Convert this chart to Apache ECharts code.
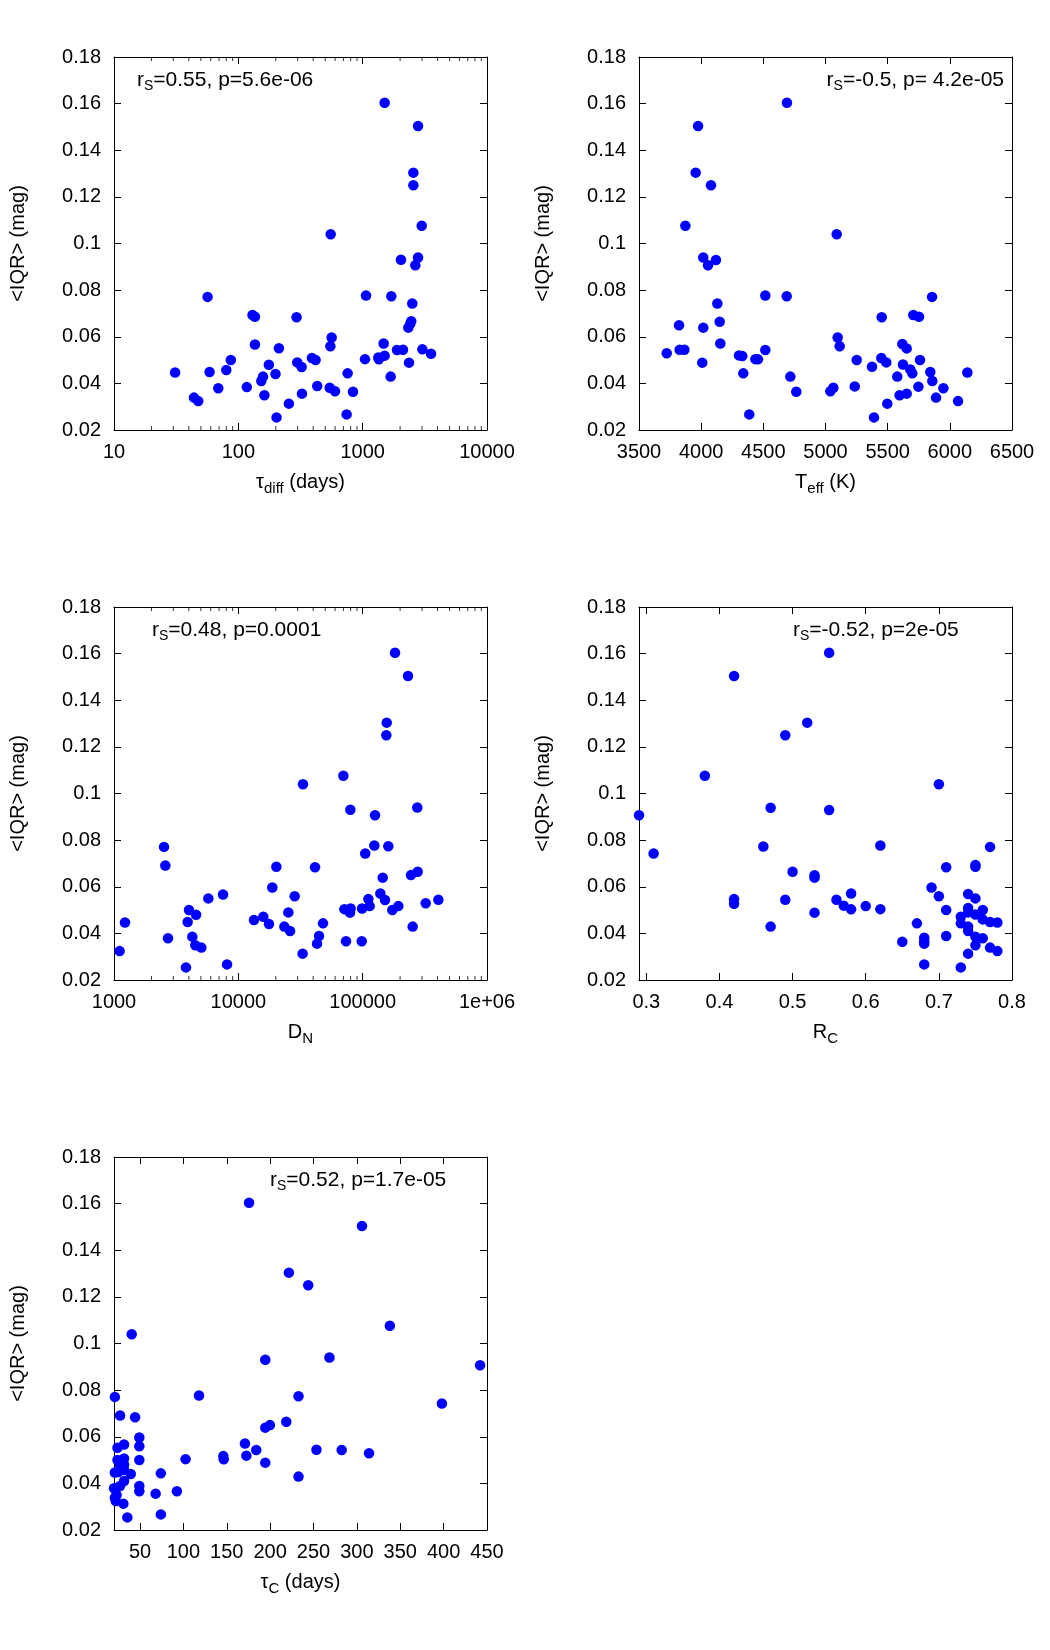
<!DOCTYPE html>
<html>
<head>
<meta charset="utf-8">
<script src="https://cdn.jsdelivr.net/npm/echarts@6/dist/echarts.min.js"></script>
<style>
  html, body { margin: 0; padding: 0; background: #fff; }
  #chart { width: 1050px; height: 1650px; }
</style>
</head>
<body>
<div id="chart"></div>
<script>
// values
var tauDiffDays = [31, 44, 47.6, 56.6, 58.7, 69, 80, 87, 117, 130, 136, 136, 212, 176, 158, 153, 199, 162, 203, 255,
    294, 298, 323, 325, 391, 418, 431, 553, 563, 550, 543, 599, 757, 743, 836, 1044, 1064, 1337, 1350, 1503,
    1475, 1503, 1679, 1700, 1888, 2110, 2033, 2359, 2329, 2417, 2460, 2506, 2557, 2557, 2652, 2788, 2788, 2985, 3022, 3548];
var iqrTauDiff = [0.0447, 0.0339, 0.0324, 0.0771, 0.0449, 0.0379, 0.0457, 0.05, 0.0384, 0.0693, 0.0686, 0.0567, 0.0551, 0.048, 0.0429, 0.041, 0.044, 0.0349, 0.0254, 0.0313,
    0.0684, 0.049, 0.047, 0.0356, 0.0509, 0.05, 0.0389, 0.104, 0.0597, 0.0559, 0.0381, 0.0366, 0.0443, 0.0267, 0.0364, 0.0504, 0.0777, 0.0511, 0.0503, 0.0519,
    0.0571, 0.1604, 0.0429, 0.0774, 0.0543, 0.0544, 0.093, 0.0489, 0.0639, 0.0657, 0.0667, 0.0743, 0.125, 0.1304, 0.0907, 0.094, 0.1504, 0.1076, 0.0546, 0.0527];

var teffK = [3723, 3822, 3827, 3865, 3873, 3956, 3975, 4009, 4017, 4017, 4055, 4079, 4119, 4130, 4149, 4154, 4304, 4331, 4339, 4387,
    4436, 4457, 4516, 4516, 4688, 4690, 4717, 4765, 5039, 5063, 5090, 5098, 5114, 5235, 5251, 5374, 5390, 5452, 5449, 5489,
    5497, 5577, 5596, 5618, 5623, 5653, 5653, 5682, 5698, 5706, 5752, 5747, 5760, 5843, 5857, 5859, 5889, 5948, 6066, 6141];
var iqrTeff = [0.0529, 0.0649, 0.0544, 0.0544, 0.1076, 0.1304, 0.1504, 0.0489, 0.0639, 0.094, 0.0907, 0.125, 0.0929, 0.0743, 0.0664, 0.0571, 0.052, 0.0517, 0.0443, 0.0267,
    0.0504, 0.0503, 0.0777, 0.0543, 0.0774, 0.1604, 0.0429, 0.0364, 0.0366, 0.0381, 0.104, 0.0597, 0.0559, 0.0387, 0.05, 0.0471, 0.0254, 0.0684, 0.0509, 0.049,
    0.0313, 0.0429, 0.0349, 0.0569, 0.0481, 0.0356, 0.055, 0.046, 0.0443, 0.0693, 0.0686, 0.0386, 0.05, 0.0449, 0.0771, 0.041, 0.0339, 0.0379, 0.0324, 0.0447];

var dN = [1110, 1225, 2525, 2587, 2718, 3793, 3912, 4009, 4265, 4508, 4571, 5039, 5737, 7530, 8110, 13370, 15890, 17650, 18760, 20220,
    23450, 25240, 26060, 28390, 32890, 33110, 41400, 42950, 44570, 47980, 69950, 71280, 73480, 79620, 79110, 80000, 98900, 98300, 104900, 111100,
    113900, 124100, 125700, 138800, 144900, 151300, 156100, 155000, 160800, 173200, 182100, 193600, 231600, 244700, 252500, 276800, 275000, 321400, 406400];
var iqrDN = [0.0324, 0.0447, 0.0771, 0.0691, 0.0379, 0.0254, 0.0449, 0.05, 0.0386, 0.0349, 0.048, 0.0339, 0.055, 0.0567, 0.0267, 0.0457, 0.0471, 0.044, 0.0597, 0.0686,
    0.0429, 0.049, 0.041, 0.0559, 0.0313, 0.104, 0.0684, 0.0356, 0.0389, 0.0443, 0.1076, 0.0504, 0.0366, 0.093, 0.0489, 0.0507, 0.0507, 0.0366, 0.0743, 0.0547,
    0.0517, 0.0777, 0.0907, 0.0571, 0.0639, 0.0543, 0.1304, 0.125, 0.0774, 0.05, 0.1604, 0.0517, 0.1504, 0.065, 0.0429, 0.0664, 0.094, 0.0529, 0.0544];

var rC = [0.29, 0.31, 0.38, 0.42, 0.42, 0.42, 0.46, 0.47, 0.47, 0.49, 0.49, 0.50, 0.52, 0.53, 0.53, 0.53, 0.55, 0.55, 0.56, 0.57,
    0.58, 0.58, 0.60, 0.62, 0.62, 0.65, 0.67, 0.68, 0.68, 0.68, 0.68, 0.69, 0.70, 0.70, 0.71, 0.71, 0.71, 0.73, 0.73, 0.73,
    0.74, 0.74, 0.74, 0.74, 0.74, 0.74, 0.75, 0.75, 0.75, 0.75, 0.75, 0.75, 0.76, 0.76, 0.76, 0.77, 0.77, 0.77, 0.78, 0.78];
var iqrRC = [0.0907, 0.0743, 0.1076, 0.1504, 0.0547, 0.0527, 0.0773, 0.0939, 0.0429, 0.125, 0.0544, 0.0664, 0.1304, 0.0649, 0.0639, 0.0489, 0.1604, 0.0929, 0.0544, 0.0519,
    0.0571, 0.0503, 0.0517, 0.0777, 0.0504, 0.0364, 0.0443, 0.0381, 0.0366, 0.0356, 0.0267, 0.0597, 0.104, 0.0559, 0.0684, 0.05, 0.0389, 0.0254, 0.0471, 0.0443,
    0.0569, 0.0509, 0.049, 0.0429, 0.041, 0.0313, 0.0693, 0.0686, 0.055, 0.0481, 0.0386, 0.0349, 0.05, 0.046, 0.0379, 0.0771, 0.0449, 0.0339, 0.0447, 0.0324];

var tauCDays = [21, 21, 20, 21, 22, 24, 27, 24, 27, 25, 27, 31.6, 31.6, 31.6, 31.6, 31.6, 30.8, 35.4, 39.3, 40.4,
    44.3, 49.2, 49.2, 49.2, 49.2, 49.2, 68, 74, 74, 92.5, 102.5, 118, 146, 146.5, 171, 172.6, 175.7, 184, 194.4, 194.4,
    194.4, 199.8, 218.6, 221.6, 232.7, 232.7, 243.9, 253.4, 268.4, 282.5, 305.9, 314, 338, 398, 442, 23];
var iqrTauC = [0.0771, 0.0447, 0.0379, 0.0339, 0.0324, 0.0553, 0.0691, 0.05, 0.048, 0.0449, 0.0389, 0.0567, 0.0507, 0.048, 0.0457, 0.041, 0.0313, 0.0254, 0.044, 0.104,
    0.0684, 0.0597, 0.0559, 0.05, 0.0389, 0.0366, 0.0356, 0.0443, 0.0267, 0.0366, 0.0504, 0.0777, 0.0517, 0.0503, 0.0571, 0.0519, 0.1604, 0.0543, 0.093, 0.0639,
    0.0489, 0.065, 0.0664, 0.1304, 0.0774, 0.0429, 0.125, 0.0544, 0.094, 0.0543, 0.1504, 0.0529, 0.1076, 0.0743, 0.0907, 0.035];

// tick labels
var rCTicks = [0.3, 0.4, 0.5, 0.6, 0.7, 0.8];
var tauCTicks = [50, 100, 150, 200, 250, 300, 350, 400, 450];
var logMinor = [2, 3, 4, 5, 6, 7, 8, 9];
var tauDiffDecades = [10, 100, 1000];
var dNDecades = [1000, 10000, 100000];

var notes = ['0.55, p=5.6e-06', '-0.5, p= 4.2e-05', '0.48, p=0.0001', '-0.52, p=2e-05', '0.52, p=1.7e-05'];

var font = 'Liberation Sans, Arial, Helvetica, sans-serif';
var sub = {
    n: {fontSize: 20, fontFamily: font, color: '#000', lineHeight: 28},
    s: {fontSize: 15, fontFamily: font, color: '#000', lineHeight: 28, verticalAlign: 'bottom'}
};
var noteSub = {
    n: {fontSize: 21, fontFamily: font, fill: '#000', color: '#000', lineHeight: 26},
    s: {fontSize: 14, fontFamily: font, fill: '#000', color: '#000', lineHeight: 26, verticalAlign: 'bottom'}
};

var myChart = echarts.init(document.getElementById('chart'));

var gridPos = [[114, 57], [639, 57], [114, 607], [639, 607], [114, 1157]];
var panels = [
    {type: 'log', min: 10, max: 10000, name: '{n|τ}{s|diff}{n| (days)}', x: tauDiffDays, y: iqrTauDiff, decades: tauDiffDecades},
    {type: 'value', min: 3500, max: 6500, interval: 500, name: '{n|T}{s|eff}{n| (K)}', x: teffK, y: iqrTeff},
    {type: 'log', min: 1000, max: 1000000, name: '{n|D}{s|N}', x: dN, y: iqrDN, decades: dNDecades},
    {type: 'value', min: 0.29, max: 0.8, ticks: rCTicks, name: '{n|R}{s|C}', x: rC, y: iqrRC},
    {type: 'value', min: 20, max: 450, ticks: tauCTicks, name: '{n|τ}{s|C}{n| (days)}', x: tauCDays, y: iqrTauC}
];

var grid = [], xAxis = [], yAxis = [], series = [];

function xAx(i, p, mirror) {
    var a = {
        gridIndex: i, type: p.type, min: p.min, max: p.max,
        position: mirror ? 'top' : 'bottom',
        axisLine: {show: true, onZero: false, lineStyle: {color: '#000', width: 1}},
        axisTick: {show: true, inside: true, length: 7, lineStyle: {color: '#000', width: 1}},
        axisLabel: {show: !mirror, color: '#000', fontSize: 20, fontFamily: font, margin: 12,
            showMinLabel: true, showMaxLabel: true,
            formatter: function (v) { return v >= 1000000 ? '1e+06' : String(v); }},
        splitLine: {show: false}
    };
    if (p.type === 'log') a.logBase = 10;
    if (p.interval) a.interval = p.interval;
    if (p.ticks) {
        a.axisTick.customValues = p.ticks;
        a.axisLabel.customValues = p.ticks;
    }
    if (!mirror) {
        a.name = p.name;
        a.nameLocation = 'middle';
        a.nameGap = 38;
        a.nameTextStyle = {color: '#000', fontSize: 20, fontFamily: font, rich: sub};
    }
    return a;
}

function yAx(i, mirror) {
    var a = {
        gridIndex: i, type: 'value', min: 0.02, max: 0.18, interval: 0.02,
        position: mirror ? 'right' : 'left',
        axisLine: {show: true, onZero: false, lineStyle: {color: '#000', width: 1}},
        axisTick: {show: true, inside: true, length: 7, lineStyle: {color: '#000', width: 1}},
        axisLabel: {show: !mirror, color: '#000', fontSize: 20, fontFamily: font, margin: 13},
        splitLine: {show: false}
    };
    if (!mirror) {
        a.name = '<IQR> (mag)';
        a.nameLocation = 'middle';
        a.nameGap = 86;
        a.nameRotate = 90;
        a.nameTextStyle = {color: '#000', fontSize: 20, fontFamily: font};
    }
    return a;
}

panels.forEach(function (p, i) {
    grid.push({left: gridPos[i][0], top: gridPos[i][1], width: 373, height: 373, containLabel: false});
    xAxis.push(xAx(i, p, false), xAx(i, p, true));
    yAxis.push(yAx(i, false), yAx(i, true));

    var pts = p.x.map(function (v, k) { return [v, p.y[k]]; });
    series.push({
        type: 'scatter', xAxisIndex: 2 * i, yAxisIndex: 2 * i,
        symbol: 'circle', symbolSize: 10.5, itemStyle: {color: '#0000ff', opacity: 1},
        data: pts, z: 3
    });

    // minor ticks of the log axes, bottom and top
    if (p.decades) {
        var mv = [];
        p.decades.forEach(function (d) { logMinor.forEach(function (m) { mv.push(m * d); }); });
        series.push({
            type: 'scatter', xAxisIndex: 2 * i, yAxisIndex: 2 * i, silent: true, clip: false,
            symbol: 'rect', symbolSize: [1, 4], symbolOffset: [0, -2], itemStyle: {color: '#000'},
            data: mv.map(function (v) { return [v, 0.02]; })
        });
        series.push({
            type: 'scatter', xAxisIndex: 2 * i, yAxisIndex: 2 * i, silent: true, clip: false,
            symbol: 'rect', symbolSize: [1, 4], symbolOffset: [0, 2], itemStyle: {color: '#000'},
            data: mv.map(function (v) { return [v, 0.18]; })
        });
    }
});

function note(i, pos) {
    var el = {type: 'text', top: pos.top, z: 10,
        style: {text: '{n|r}{s|S}{n|=' + notes[i] + '}', rich: noteSub, fill: '#000'}};
    if (pos.left != null) el.left = pos.left;
    if (pos.right != null) el.right = pos.right;
    return el;
}

myChart.setOption({
    animation: false,
    backgroundColor: '#fff',
    grid: grid,
    xAxis: xAxis,
    yAxis: yAxis,
    series: series,
    graphic: [
        note(0, {left: 137, top: 70}),
        note(1, {right: 46, top: 70}),
        note(2, {left: 152, top: 620}),
        note(3, {left: 793, top: 620}),
        note(4, {left: 270, top: 1170})
    ]
});
</script>
</body>
</html>
